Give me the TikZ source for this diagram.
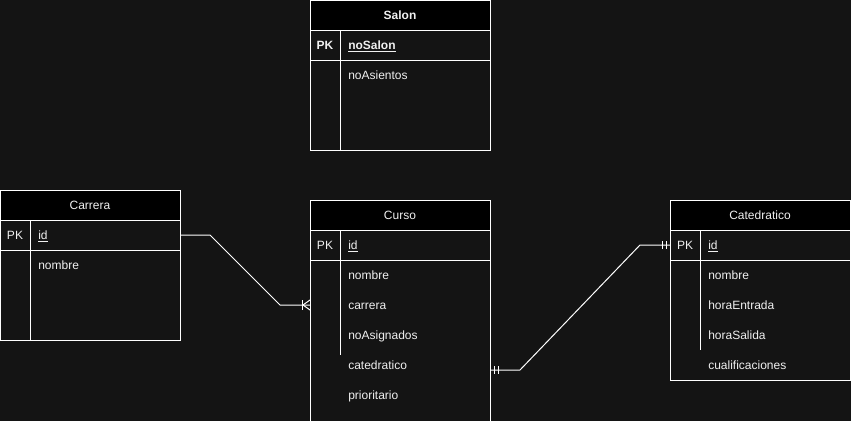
\documentclass[tikz,border=0pt]{standalone}
\usepackage{fontspec}
\setmainfont{Liberation Sans}
\usepackage{xcolor}
\definecolor{canvas}{HTML}{141414}
\definecolor{chalk}{HTML}{F0F0F0}
\tikzset{
  frame/.style={draw=white,line width=.75pt},
  rel/.style={draw=white,line width=.75pt},
  title/.style={text=chalk,inner sep=0pt,anchor=base},
  keytag/.style={text=chalk,inner sep=0pt,anchor=base},
  field/.style={text=chalk,anchor=base west,inner sep=0pt}
}

\begin{document}
\begin{tikzpicture}[x=.75pt,y=-.75pt,font=\fontsize{9}{11}\selectfont]
\useasboundingbox (0,0) rectangle (851,421);
\clip (0,0) rectangle (851,421);
\fill[canvas] (0,0) rectangle (851,421);
% Salon
\filldraw[fill=canvas,frame] (310,0) rectangle (490,150);
\filldraw[fill=black,frame] (310,0) rectangle (490,30);
\draw[frame] (310,60) -- (490,60);
\draw[frame] (340,30) -- (340,150);
\node[title,font=\fontsize{9}{11}\selectfont\bfseries] (salon) at (400,19.5) {Salon};
\node[keytag] (salon-pk) at (325,49.5) {\textbf{PK}};
\node[field] (salon-nosalon) at (348,49.5) {\textbf{\underline{noSalon}}};
\node[field] (salon-noasientos) at (348,79.5) {noAsientos};
% Carrera
\filldraw[fill=canvas,frame] (0,190) rectangle (180,340);
\filldraw[fill=black,frame] (0,190) rectangle (180,220);
\draw[frame] (0,250) -- (180,250);
\draw[frame] (30,220) -- (30,340);
\node[title] (carrera) at (90,209.5) {Carrera};
\node[keytag] (carrera-pk) at (15,239.5) {PK};
\node[field] (carrera-id) at (38,239.5) {\underline{id}};
\node[field] (carrera-nombre) at (38,269.5) {nombre};
% Curso
\filldraw[fill=canvas,frame] (310,200) rectangle (490,430);
\filldraw[fill=black,frame] (310,200) rectangle (490,230);
\draw[frame] (310,260) -- (490,260);
\draw[frame] (340,230) -- (340,355);
\node[title] (curso) at (400,219.5) {Curso};
\node[keytag] (curso-pk) at (325,249.5) {PK};
\node[field] (curso-id) at (348,249.5) {\underline{id}};
\node[field] (curso-nombre) at (348,279.5) {nombre};
\node[field] (curso-carrera) at (348,309.5) {carrera};
\node[field] (curso-noasignados) at (348,339.5) {noAsignados};
\node[field] (curso-catedratico) at (348,369.5) {catedratico};
\node[field] (curso-prioritario) at (348,399.5) {prioritario};
% Catedratico
\filldraw[fill=canvas,frame] (670,200) rectangle (850,380);
\filldraw[fill=black,frame] (670,200) rectangle (850,230);
\draw[frame] (670,260) -- (850,260);
\draw[frame] (700,230) -- (700,350);
\node[title] (catedratico) at (760,219.5) {Catedratico};
\node[keytag] (catedratico-pk) at (685,249.5) {PK};
\node[field] (catedratico-id) at (708,249.5) {\underline{id}};
\node[field] (catedratico-nombre) at (708,279.5) {nombre};
\node[field] (catedratico-horaentrada) at (708,309.5) {horaEntrada};
\node[field] (catedratico-horasalida) at (708,339.5) {horaSalida};
\node[field] (catedratico-cualificaciones) at (708,369.5) {cualificaciones};
% relaciones
\coordinate (carrera-out) at (180,235);
\coordinate (curso-in) at (310,305);
\coordinate (curso-out) at (490,370);
\coordinate (catedratico-in) at (670,245);
\draw[rel] (carrera-out) -- (210,235) -- (280,305) -- (curso-in);
\draw[rel] (302,300) -- (302,310);
\draw[rel] (310,300) -- (303,305) -- (310,310);
\draw[rel] (curso-out) -- (520,370) -- (640,245) -- (catedratico-in);
\draw[rel] (494,366) -- (494,374) (498,366) -- (498,374);
\draw[rel] (662,241) -- (662,249) (666,241) -- (666,249);
\end{tikzpicture}
\end{document}
